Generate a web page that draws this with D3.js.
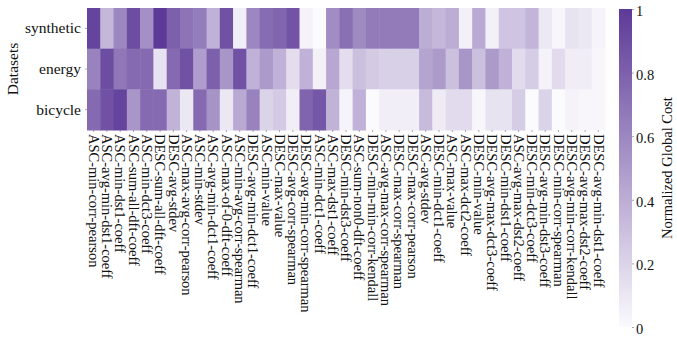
<!DOCTYPE html>
<html lang="en">
<head>
<meta charset="utf-8">
<script src="https://cdn.jsdelivr.net/npm/d3@7"></script>
<style>
  body { margin: 0; background: #fff; }
</style>
</head>
<body>
<svg id="chart" width="677" height="338" font-family="'Liberation Serif', 'DejaVu Serif', serif"></svg>
<script>
// datasets (rows) and metric orderings (columns)
const datasets = ["synthetic", "energy", "bicycle"];
const metrics = [
  "ASC-min-corr-pearson", "ASC-avg-min-dst1-coeff", "ASC-min-dst1-coeff", "ASC-sum-all-dft-coeff",
  "ASC-min-dct3-coeff", "DESC-sum-all-dft-coeff", "DESC-avg-stdev", "ASC-max-avg-corr-pearson",
  "ASC-min-stdev", "ASC-avg-min-dct1-coeff", "ASC-max-of-0-dft-coeff", "ASC-min-avg-corr-spearman",
  "DESC-avg-min-dct1-coeff", "ASC-min-value", "DESC-max-value", "DESC-avg-corr-spearman",
  "DESC-avg-min-corr-spearman", "ASC-min-dct1-coeff", "ASC-max-dst1-coeff", "DESC-min-dst3-coeff",
  "ASC-sum-non0-dft-coeff", "DESC-min-min-corr-kendall", "ASC-avg-max-corr-spearman", "DESC-max-corr-spearman",
  "DESC-max-corr-pearson", "ASC-avg-stdev", "DESC-min-dct1-coeff", "ASC-max-value",
  "ASC-max-dct2-coeff", "DESC-min-value", "DESC-avg-max-dct3-coeff", "DESC-min-dst1-coeff",
  "ASC-avg-max-dst2-coeff", "DESC-min-dct3-coeff", "DESC-avg-min-dst3-coeff", "DESC-min-corr-spearman",
  "DESC-avg-min-corr-kendall", "DESC-avg-max-dst2-coeff", "DESC-avg-min-dst1-coeff"
];

// normalized global cost
const syntheticCost = [
  0.95, 0.35, 0.60, 0.90, 0.55, 1.00, 0.80, 0.70, 0.65, 0.38,
  0.88, 0.06, 0.60, 0.74, 0.77, 0.87, 0.04, 0.00, 0.57, 0.72,
  0.58, 0.66, 0.66, 0.66, 0.66, 0.40, 0.35, 0.40, 0.05, 0.42,
  0.05, 0.28, 0.28, 0.36, 0.10, 0.02, 0.12, 0.10, 0.03
];
const energyCost = [
  0.62, 0.90, 0.68, 0.75, 0.75, 0.12, 0.75, 0.88, 0.48, 0.80,
  0.52, 0.88, 0.38, 0.50, 0.38, 0.15, 0.38, 0.05, 0.43, 0.15,
  0.30, 0.25, 0.22, 0.22, 0.22, 0.45, 0.50, 0.30, 0.52, 0.30,
  0.50, 0.38, 0.16, 0.24, 0.04, 0.16, 0.07, 0.07, 0.02
];
const bicycleCost = [
  0.75, 0.88, 0.95, 0.52, 0.75, 0.75, 0.37, 0.10, 0.75, 0.53,
  0.10, 0.42, 0.62, 0.20, 0.25, 0.06, 0.78, 0.85, 0.37, 0.03,
  0.38, 0.00, 0.06, 0.06, 0.06, 0.33, 0.08, 0.16, 0.16, 0.02,
  0.12, 0.12, 0.24, 0.00, 0.20, 0.00, 0.04, 0.02, 0.02
];
const colorTicks = [0, 0.2, 0.4, 0.6, 0.8, 1];

const costs = { synthetic: syntheticCost, energy: energyCost, bicycle: bicycleCost };
const cells = datasets.flatMap(ds => metrics.map((m, i) => ({ ds, m, v: costs[ds][i] })));

const svg = d3.select("#chart");
const serif = "'Liberation Serif', 'DejaVu Serif', serif";
const plot = { left: 87, right: 605, top: 8, bottom: 130 };

const x = d3.scaleBand().domain(metrics).range([plot.left, plot.right]);
const y = d3.scaleBand().domain(datasets).range([plot.top, plot.bottom]);
const color = d3.scaleSequential(d3.interpolateRgb("#fbfafd", "#5d3a98")).domain([0, 1]);

// heatmap cells
svg.append("g")
  .selectAll("rect")
  .data(cells).enter()
  .append("rect")
  .attr("x", d => x(d.m))
  .attr("y", d => y(d.ds))
  .attr("width", x.bandwidth() + 0.5)
  .attr("height", y.bandwidth() + 0.5)
  .attr("fill", d => color(d.v));

// x axis: rotated metric names
const xAxis = svg.append("g")
  .attr("transform", `translate(0,${plot.bottom})`)
  .call(d3.axisBottom(x).tickSize(2).tickSizeOuter(0))
  .attr("font-family", serif);
xAxis.select(".domain").remove();
xAxis.selectAll(".tick line").attr("stroke", "#555").attr("stroke-width", 0.5);
xAxis.selectAll("text")
  .attr("font-size", 14.5)
  .attr("fill", "#111")
  .attr("text-anchor", "start")
  .attr("transform", "rotate(90)")
  .attr("x", 4)
  .attr("y", 0)
  .attr("dy", "0.33em");

// y axis: dataset names
const yAxis = svg.append("g")
  .attr("transform", `translate(${plot.left},0)`)
  .call(d3.axisLeft(y).tickSize(2).tickSizeOuter(0))
  .attr("font-family", serif);
yAxis.select(".domain").remove();
yAxis.selectAll(".tick line").attr("stroke", "#555").attr("stroke-width", 0.5);
yAxis.selectAll("text").attr("font-size", 15.5).attr("fill", "#111").attr("x", -6);

svg.append("text")
  .attr("transform", `translate(13,${(plot.top + plot.bottom) / 2}) rotate(-90)`)
  .attr("text-anchor", "middle")
  .attr("dy", "0.35em")
  .attr("font-size", 15.5)
  .attr("fill", "#111")
  .text("Datasets");

// colorbar
const cb = { x: 619, w: 13, top: 9, bottom: 327 };
const grad = svg.append("defs").append("linearGradient")
  .attr("id", "cbGrad")
  .attr("x1", 0).attr("y1", 1).attr("x2", 0).attr("y2", 0);
grad.selectAll("stop")
  .data(d3.range(0, 1.001, 0.1)).enter()
  .append("stop")
  .attr("offset", d => d)
  .attr("stop-color", d => color(d));

svg.append("rect")
  .attr("x", cb.x).attr("y", cb.top)
  .attr("width", cb.w).attr("height", cb.bottom - cb.top)
  .attr("fill", "url(#cbGrad)");

const cbScale = d3.scaleLinear().domain([0, 1]).range([cb.bottom, cb.top]);
const cbAxis = svg.append("g")
  .attr("transform", `translate(${cb.x + cb.w},0)`)
  .call(d3.axisRight(cbScale).tickValues(colorTicks).tickFormat(d3.format("~g")).tickSize(2))
  .attr("font-family", serif);
cbAxis.select(".domain").remove();
cbAxis.selectAll(".tick line").attr("stroke", "#555").attr("stroke-width", 0.5);
cbAxis.selectAll("text").attr("font-size", 14.5).attr("fill", "#111").attr("x", 4).attr("dy", "0.45em");

svg.append("text")
  .attr("transform", `translate(667,${(cb.top + cb.bottom) / 2}) rotate(-90)`)
  .attr("text-anchor", "middle")
  .attr("dy", "0.35em")
  .attr("font-size", 14.5)
  .attr("fill", "#111")
  .text("Normalized Global Cost");
</script>
</body>
</html>
